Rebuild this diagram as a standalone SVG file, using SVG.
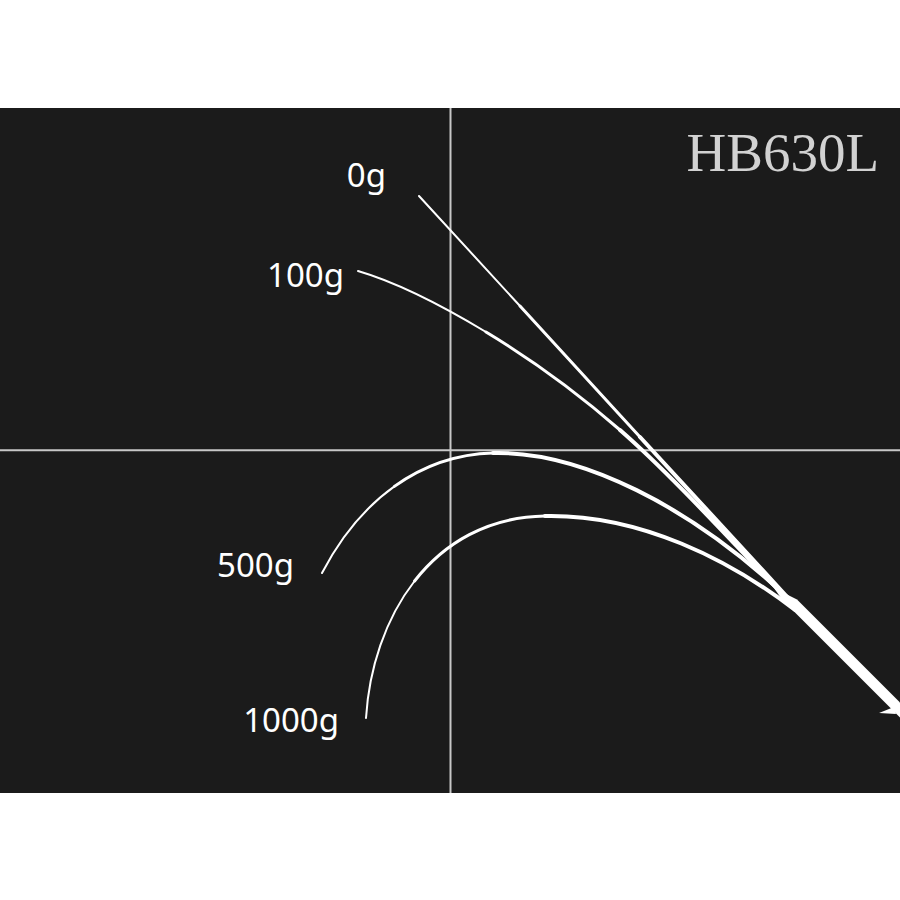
<svg xmlns="http://www.w3.org/2000/svg" width="900" height="900" viewBox="0 0 900 900">
  <style>
    .bg { fill: #1b1b1b; }
    .axis { stroke: #c8c8c8; stroke-width: 2; fill: none; }
    .rod { stroke: #ffffff; fill: none; stroke-linecap: round; stroke-linejoin: round; }
    .w1 { stroke-width: 2; }
    .w2 { stroke-width: 3; }
    .w3 { stroke-width: 4; }
    .lbl { fill: #ffffff; font-family: "Noto Sans", "Open Sans", "Liberation Sans", sans-serif; font-size: 33px; text-anchor: end; }
    .title { fill: #d2d2d2; font-family: "Liberation Serif", "Times New Roman", serif; font-size: 55px; text-anchor: end; }
  </style>
  <rect x="0" y="0" width="900" height="900" fill="#ffffff"/>
  <rect class="bg" x="0" y="108" width="900" height="685"/>

  <g id="axes">
    <line class="axis" x1="450.5" y1="108" x2="450.5" y2="793"/>
    <line class="axis" x1="0" y1="450.3" x2="900" y2="450.3"/>
  </g>

  <text id="title" class="title" x="879" y="171">HB630L</text>

  <g id="curve-0g">
    <path class="rod w1" d="M419,196 L520,306"/>
    <path class="rod w2" d="M520,306 L640,437"/>
    <path class="rod w3" d="M640,437 L790,600"/>
    <text class="lbl" x="386" y="187">0g</text>
  </g>

  <g id="curve-100g">
    <path class="rod w1" d="M358,271 C394,281.5 439.5,304 486,332"/>
    <path class="rod w2" d="M486,332 C532.5,360 580,395 620,430"/>
    <path class="rod w3" d="M620,430 C675,478 745,556 790,602"/>
    <text class="lbl" x="344" y="287">100g</text>
  </g>

  <g id="curve-500g">
    <path class="rod w1" d="M322,573 C341,536.5 365.5,507 394.4,486.4"/>
    <path class="rod w2" d="M394.4,486.4 C423.25,465.75 456.5,454 493,453"/>
    <path class="rod w3" d="M493,453 C580,451 690,505 790,600"/>
    <text class="lbl" x="294" y="577">500g</text>
  </g>

  <g id="curve-1000g">
    <path class="rod w1" d="M366,718 C369,669 385,619 414.6,581"/>
    <path class="rod w2" d="M414.6,581 C444.25,543 487.5,517 545,516"/>
    <path class="rod w3" d="M545,516 C640,514 730,560 795,610"/>
    <text class="lbl" x="339" y="732">1000g</text>
  </g>

  <g id="rod-butt">
    <polygon fill="#ffffff" points="774,588 797,599.5 859.5,662 930,732.5 915,732.5 844.5,662 782,599.5"/>
    <polygon fill="#ffffff" points="894,707 879,713 896,714"/>
  </g>
</svg>
